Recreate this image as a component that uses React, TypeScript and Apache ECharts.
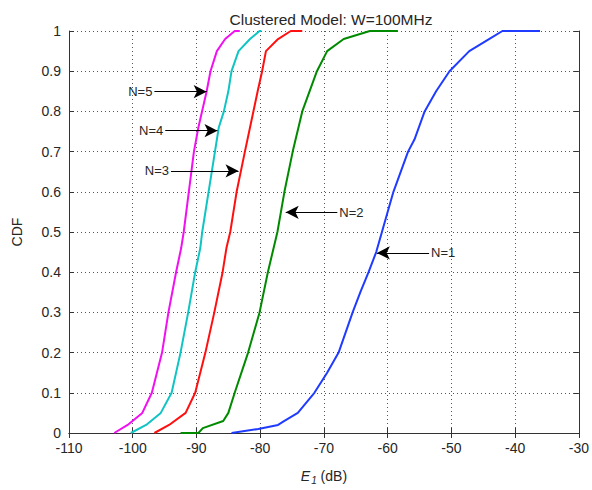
import React, { useEffect, useRef } from "react";
import * as echarts from "echarts";

const xTicks = [-110, -100, -90, -80, -70, -60, -50, -40, -30];
const yTicks = [0, 0.1, 0.2, 0.3, 0.4, 0.5, 0.6, 0.7, 0.8, 0.9, 1];

const n5X = [-102.9, -100.8, -98.5, -97.0, -95.4, -94.4, -93.2, -92.4, -92.0, -91.2, -90.4, -89.7, -88.4, -87.8, -86.8, -85.5, -84.0, -83.2];
const n5Y = [0, 0.02, 0.05, 0.1, 0.2, 0.3, 0.4, 0.46, 0.5, 0.6, 0.7, 0.76, 0.85, 0.9, 0.95, 0.98, 1, 1];

const n4X = [-100.3, -97.9, -95.6, -93.9, -92.5, -91.3, -90.2, -89.4, -89.1, -88.1, -87.1, -86.5, -85.7, -85.0, -84.5, -83.4, -81.6, -80.1, -79.8];
const n4Y = [0, 0.02, 0.05, 0.1, 0.2, 0.3, 0.4, 0.46, 0.5, 0.6, 0.7, 0.76, 0.8, 0.85, 0.9, 0.95, 0.98, 1, 1];

const n3X = [-96.6, -94.3, -91.7, -90.2, -88.6, -87.2, -85.9, -85.3, -84.7, -83.7, -82.4, -81.6, -80.4, -79.7, -79.1, -77.2, -75.2, -73.4];
const n3Y = [0, 0.02, 0.05, 0.1, 0.2, 0.3, 0.4, 0.46, 0.5, 0.6, 0.7, 0.76, 0.85, 0.9, 0.95, 0.98, 1, 1];

const n2X = [-92.5, -89.7, -89.0, -85.8, -85.0, -84.0, -81.9, -80.1, -78.8, -77.3, -76.2, -74.9, -74.6, -73.4, -71.1, -69.5, -66.9, -62.8, -58.4];
const n2Y = [0, 0, 0.012, 0.03, 0.05, 0.1, 0.2, 0.3, 0.4, 0.5, 0.6, 0.7, 0.72, 0.8, 0.9, 0.95, 0.98, 1, 1];

const n1X = [-84.5, -80.3, -77.2, -76.2, -74.1, -71.5, -69.5, -67.7, -65.5, -64.3, -63.0, -61.8, -60.9, -59.1, -56.8, -55.8, -54.2, -52.4, -50.3, -47.2, -44.1, -42.0, -36.1];
const n1Y = [0, 0.01, 0.02, 0.03, 0.05, 0.1, 0.15, 0.2, 0.3, 0.35, 0.4, 0.45, 0.5, 0.6, 0.7, 0.73, 0.8, 0.85, 0.9, 0.95, 0.98, 1, 1];

const seriesNames = ["N=1", "N=2", "N=3", "N=4", "N=5"];
const seriesColors = ["#1f3bff", "#008a00", "#ff1010", "#10c4c4", "#f010f0"];

// annotation arrows: [label, startX, tipX, y]
const arrowLabels = ["N=5", "N=4", "N=3", "N=2", "N=1"];
const arrowStartX = [-96.6, -94.9, -94.0, -67.9, -53.5];
const arrowTipX = [-88.4, -86.7, -83.4, -76.0, -61.7];
const arrowY = [0.849, 0.752, 0.652, 0.549, 0.448];

const font = "Arial, 'Liberation Sans', Helvetica, sans-serif";
const textColor = "#262626";

export default function App() {
  const ref = useRef<HTMLDivElement>(null);
  useEffect(() => {
    if (!ref.current) return;
    const chart = echarts.init(ref.current, undefined, { renderer: "svg" });
    const xs = [n1X, n2X, n3X, n4X, n5X];
    const ys = [n1Y, n2Y, n3Y, n4Y, n5Y];
    const series: any[] = xs.map((xArr, i) => ({
      name: seriesNames[i],
      type: "line",
      xAxisIndex: 0,
      yAxisIndex: 0,
      showSymbol: false,
      symbol: "none",
      lineStyle: { color: seriesColors[i], width: 2 },
      itemStyle: { color: seriesColors[i] },
      data: xArr.map((x, j) => [x, ys[i][j]]),
      z: 3,
    }));
    series.push({
      type: "line",
      data: [],
      xAxisIndex: 0,
      yAxisIndex: 0,
      markLine: {
        silent: true,
        animation: false,
        symbol: ["none", "arrow"],
        symbolSize: [10, 13],
        lineStyle: { color: "#000", width: 1, type: "solid" },
        label: {
          show: true,
          position: "start",
          distance: 2,
          color: textColor,
          fontFamily: font,
          fontSize: 13,
          formatter: (p: any) => p.name,
        },
        data: arrowLabels.map((lab, i) => [
          { name: lab, coord: [arrowStartX[i], arrowY[i]] },
          { coord: [arrowTipX[i], arrowY[i]] },
        ]),
      },
      z: 5,
    });
    const tickStyle = { show: true, inside: true, length: 5, lineStyle: { color: "#333" } };
    chart.setOption({
      animation: false,
      backgroundColor: "#fff",
      title: {
        text: "Clustered Model: W=100MHz",
        left: 326,
        textAlign: "center",
        top: 6,
        textStyle: { fontFamily: font, fontSize: 15.5, fontWeight: "normal", color: textColor },
      },
      grid: { left: 69, right: 8, top: 31, bottom: 55, containLabel: false },
      xAxis: [
        {
          type: "value",
          min: xTicks[0],
          max: xTicks[xTicks.length - 1],
          interval: 10,
          position: "bottom",
          axisLine: { lineStyle: { color: "#333", width: 1 } },
          axisTick: tickStyle,
          axisLabel: { color: textColor, fontFamily: font, fontSize: 14, margin: 8 },
          splitLine: { show: true, lineStyle: { color: "#555", type: [1, 3], width: 1 } },
          name: "{i|E}{s|1} (dB)",
          nameLocation: "middle",
          nameGap: 34,
          nameTextStyle: {
            color: textColor,
            fontFamily: font,
            fontSize: 14,
            rich: {
              i: { fontStyle: "italic", fontSize: 14, fontFamily: font, color: textColor },
              s: { fontStyle: "italic", fontSize: 10, fontFamily: font, color: textColor, verticalAlign: "bottom", padding: [8, 0, 0, 1] },
            },
          },
        },
        {
          type: "value",
          min: xTicks[0],
          max: xTicks[xTicks.length - 1],
          interval: 10,
          position: "top",
          axisLine: { show: true, lineStyle: { color: "#333", width: 1 } },
          axisTick: tickStyle,
          axisLabel: { show: false },
          splitLine: { show: false },
        },
      ],
      yAxis: [
        {
          type: "value",
          min: yTicks[0],
          max: yTicks[yTicks.length - 1],
          interval: 0.1,
          position: "left",
          axisLine: { show: true, lineStyle: { color: "#333", width: 1 } },
          axisTick: tickStyle,
          axisLabel: { color: textColor, fontFamily: font, fontSize: 14, margin: 8 },
          splitLine: { show: true, lineStyle: { color: "#555", type: [1, 3], width: 1 } },
          name: "CDF",
          nameLocation: "middle",
          nameGap: 45,
          nameRotate: 90,
          nameTextStyle: { color: textColor, fontFamily: font, fontSize: 14 },
        },
        {
          type: "value",
          min: yTicks[0],
          max: yTicks[yTicks.length - 1],
          interval: 0.1,
          position: "right",
          axisLine: { show: true, lineStyle: { color: "#333", width: 1 } },
          axisTick: tickStyle,
          axisLabel: { show: false },
          splitLine: { show: false },
        },
      ],
      series,
    });
    return () => chart.dispose();
  }, []);
  return (
    <div
      ref={ref}
      style={{ position: "fixed", left: 0, top: 0, width: 592, height: 490, background: "#fff" }}
    />
  );
}
